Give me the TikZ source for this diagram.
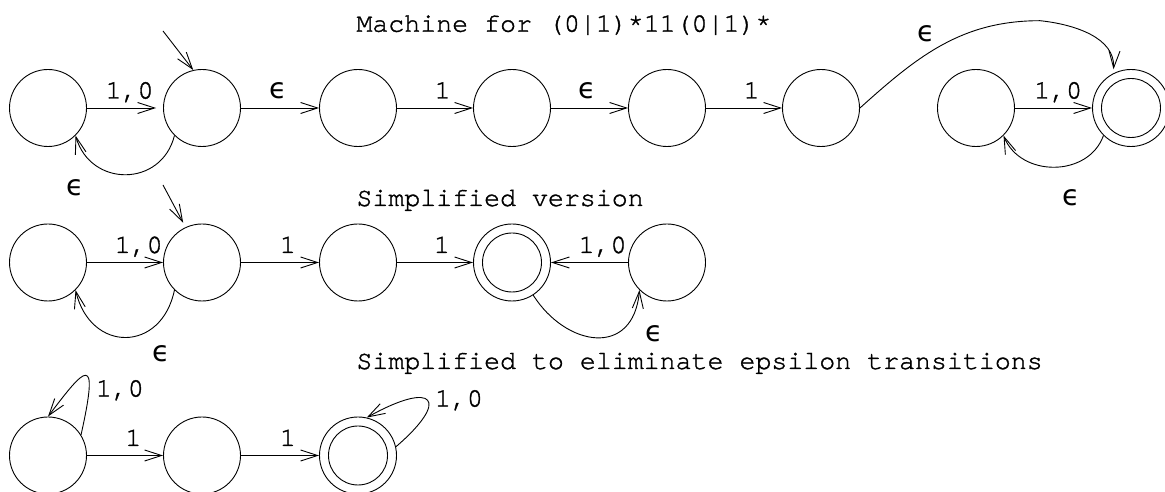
\documentclass[tikz,border=0pt]{standalone}
\usepackage{fontspec}
\newfontfamily\codefont{texgyrecursor-regular.otf}[FakeBold=1.3,Ligatures=NoCommon]
\newfontfamily\epsfont{DejaVu Sans}
\usetikzlibrary{arrows.meta}
% lunate epsilon used for the empty-word transitions
\newcommand{\lunateps}{{\epsfont\symbol{"03F5}}}
\begin{document}
\begin{tikzpicture}[x=1pt,y=1pt,line width=0.9pt,
  state/.style={circle, draw, minimum size=77pt, inner sep=0pt},
  accept/.style={state, path picture={\draw (path picture bounding box.center) circle (29.5pt);}},
  trans/.style={-{Straight Barb[length=17pt,width=11pt]}},
  lab/.style={inner sep=0pt, anchor=base, yshift=9.5pt},
  tt/.style={font=\codefont\fontsize{26.6}{30}\selectfont},
  ep/.style={font=\fontsize{28.5}{32}\selectfont, inner sep=0pt},
  loopl/.style={tt, inner sep=0pt, anchor=base west},
  title/.style={tt, inner sep=0pt, anchor=base west}]
\clip (0,0) rectangle (1165,492);

% ---------- machine for (0|1)*11(0|1)* ----------
\node[title] (t1) at (356,460.3) {Machine for (0|1)*11(0|1)*};
\node[state]  (n1) at (48,384) {};
\node[state]  (n2) at (202,384) {};
\node[state]  (n3) at (358,384) {};
\node[state]  (n4) at (512,384) {};
\node[state]  (n5) at (667,384) {};
\node[state]  (n6) at (821,384) {};
\node[state]  (n7) at (976,384) {};
\node[accept] (n8) at (1131,384) {};
\coordinate (i1) at (163,461);
\coordinate (peak) at (1040,471.3);

\draw[trans] (i1) -- (n2.103);
\draw[trans, shorten >=7pt] (n1) -- node[lab,tt,pos=.56] {1,0} (n2);
\draw[trans] (n2) -- node[lab,ep,pos=.48] {\lunateps} (n3);
\draw[trans] (n3) -- node[lab,tt,pos=.6] {1} (n4);
\draw[trans] (n4) -- node[lab,ep,pos=.47] {\lunateps} (n5);
\draw[trans] (n5) -- node[lab,tt,pos=.6] {1} (n6);
\draw[trans] (n7) -- node[lab,tt,pos=.56] {1,0} (n8);
\draw[trans] (n2.225) .. controls +(-13,-52) and +(15,-52) .. (n1.-45)
  node[ep, yshift=-52.3pt] {\lunateps};
\draw[trans] (n8.225) .. controls +(-15,-42) and +(17,-42) .. (n7.-45)
  node[ep, xshift=67.3pt, yshift=-62.3pt] {\lunateps};
\draw[trans, shorten >=4pt] (n6.east) node[ep, xshift=66.5pt, yshift=74pt] {\lunateps}
  to[out=42,in=180] (peak) to[out=-6,in=87] (n8.117);

% ---------- simplified version ----------
\node[title] (t2) at (356,286) {Simplified version};
\node[state]  (a1) at (48,229.5) {};
\node[state]  (a2) at (202,229.5) {};
\node[state]  (a3) at (358,229.5) {};
\node[accept] (a4) at (512,229.5) {};
\node[state]  (a5) at (667,229.5) {};
\coordinate (i2) at (163,307);

\draw[trans, shorten >=5pt] (i2) -- (a2.115);
\draw[trans] (a1) -- node[lab,tt,pos=.68] {1,0} (a2);
\draw[trans] (a2) -- node[lab,tt,pos=.6] {1} (a3);
\draw[trans] (a3) -- node[lab,tt,pos=.59] {1} (a4);
\draw[trans] (a5) -- node[lab,tt,pos=.33] {1,0} (a4);
\draw[trans] (a2.225) .. controls +(-13,-63) and +(15,-63) .. (a1.-45)
  node[ep, xshift=85.8pt, yshift=-63.3pt] {\lunateps};
\draw[trans] (a4.-57) .. controls +(33,-52) and +(-6,-68) .. (a5.225)
  node[ep, xshift=15.2pt, yshift=-43.3pt] {\lunateps};

% ---------- without epsilon transitions ----------
\node[title] (t3) at (356,123) {Simplified to eliminate epsilon transitions};
\node[state]  (b1) at (48,36.5) {};
\node[state]  (b2) at (202,36.5) {};
\node[accept] (b3) at (358,36.5) {};

\draw[trans] (b1) -- node[lab,tt,pos=.61] {1} (b2);
\draw[trans] (b2) -- node[lab,tt,pos=.6] {1} (b3);
\draw[trans] (b1.32) .. controls +(19,85) and +(37,49) .. (b1.90)
  node[loopl, xshift=47.5pt, yshift=20pt] {1,0};
\draw[trans] (b3.13) .. controls +(54.5,46.8) and +(68.3,38) .. (b3.77)
  node[loopl, xshift=67.8pt, yshift=11pt] {1,0};
\end{tikzpicture}
\end{document}
